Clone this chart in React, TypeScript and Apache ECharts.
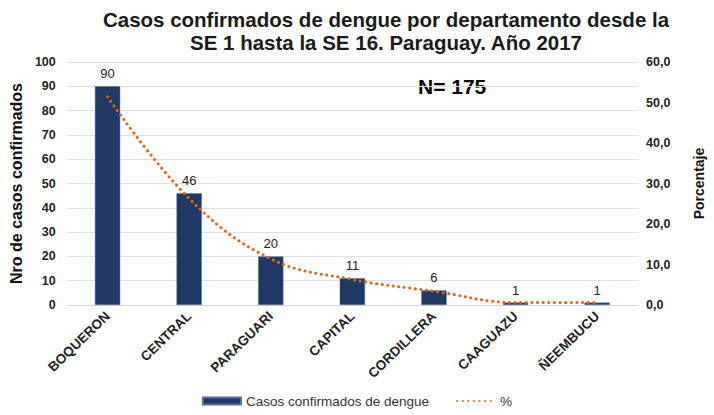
import React, { useEffect, useRef } from "react";
import * as echarts from "echarts";

const categories = ["BOQUERON", "CENTRAL", "PARAGUARI", "CAPITAL", "CORDILLERA", "CAAGUAZU", "ÑEEMBUCU"];
const casos = [90, 46, 20, 11, 6, 1, 1];
const porcentaje = [51.4, 26.3, 11.4, 6.3, 3.4, 0.6, 0.6];

const titleLines = ["Casos confirmados de dengue por departamento desde la", "SE 1 hasta la SE 16. Paraguay. Año 2017"];
const leftName = "Nro de casos confirmados";
const rightName = "Porcentaje";
const seriesNames = ["Casos confirmados de dengue", "%"];
const totalLabel = "N= 175";

const FONT = "'Liberation Sans', Arial, sans-serif";
const ORANGE = "#d2691e";

export default function App() {
  const ref = useRef<HTMLDivElement>(null);
  useEffect(() => {
    if (!ref.current) return;
    const chart = echarts.init(ref.current, null, { renderer: "svg" });
    chart.setOption({
      animation: false,
      textStyle: { fontFamily: FONT },
      title: {
        text: titleLines.join("\n"),
        left: 381,
        textAlign: "center",
        top: 3,
        textStyle: { fontFamily: FONT, fontSize: 20.5, fontWeight: "bold", color: "#1a1a1a", lineHeight: 23 },
      },
      graphic: [
        {
          type: "text",
          left: 418,
          top: 76,
          style: { text: totalLabel, font: `bold 21px ${FONT}`, fill: "#000" },
        },
      ],
      legend: {
        bottom: 2,
        left: "center",
        itemGap: 27,
        itemWidth: 38,
        itemHeight: 7,
        textStyle: { fontFamily: FONT, fontSize: 13.5, color: "#333" },
        data: [
          { name: seriesNames[0], icon: "rect" },
          { name: seriesNames[1], itemStyle: { opacity: 0 } },
        ],
      },
      grid: { left: 63, right: 66, top: 62, bottom: 110 },
      xAxis: {
        type: "category",
        data: categories,
        axisTick: { show: false },
        axisLine: { lineStyle: { color: "#d9d9d9" } },
        axisLabel: {
          rotate: 44,
          interval: 0,
          fontFamily: FONT,
          fontSize: 13.5,
          fontWeight: "bold",
          color: "#222",
          margin: 9,
        },
      },
      yAxis: [
        {
          type: "value",
          min: 0,
          max: 100,
          interval: 10,
          name: leftName,
          nameLocation: "middle",
          nameGap: 41,
          nameTextStyle: { fontFamily: FONT, fontSize: 16, fontWeight: "bold", color: "#111" },
          axisLabel: { fontFamily: FONT, fontSize: 12.5, fontWeight: "bold", color: "#222", margin: 11 },
          splitLine: { lineStyle: { color: "#e0e0e0" } },
          axisLine: { show: false },
          axisTick: { show: false },
        },
        {
          type: "value",
          min: 0,
          max: 60,
          interval: 10,
          name: rightName,
          nameLocation: "middle",
          nameGap: 54,
          nameRotate: 90,
          nameTextStyle: { fontFamily: FONT, fontSize: 14, fontWeight: "bold", color: "#111" },
          axisLabel: {
            fontFamily: FONT,
            fontSize: 12.5,
            fontWeight: "bold",
            color: "#222",
            margin: 8,
            formatter: (v: number) => v.toFixed(1).replace(".", ","),
          },
          splitLine: { show: false },
          axisLine: { show: false },
          axisTick: { show: false },
        },
      ],
      series: [
        {
          name: seriesNames[0],
          type: "bar",
          data: casos,
          barWidth: "31%",
          itemStyle: { color: "#203864", borderColor: "#5a6f96", borderWidth: 0.5 },
          label: {
            show: true,
            position: "top",
            distance: 6,
            fontFamily: FONT,
            fontSize: 13,
            color: "#222",
          },
        },
        {
          name: seriesNames[1],
          type: "line",
          yAxisIndex: 1,
          data: porcentaje,
          smooth: 0.4,
          symbol: "none",
          lineStyle: { color: ORANGE, width: 3, type: [0.1, 5.5], cap: "round" },
          itemStyle: { color: ORANGE },
        },
      ],
    });
    return () => chart.dispose();
  }, []);
  return <div ref={ref} style={{ position: "absolute", left: 0, top: 0, width: 714, height: 415 }} />;
}
